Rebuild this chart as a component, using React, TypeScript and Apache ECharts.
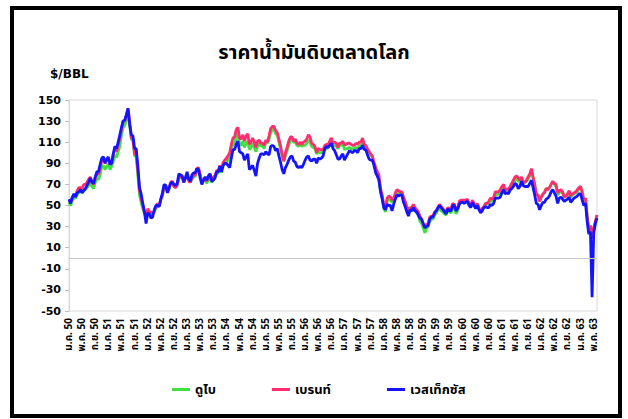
import React, { useEffect, useRef } from "react";
import * as echarts from "echarts";

const titleText = "ราคาน้ำมันดิบตลาดโลก";
const unitText = "$/BBL";
const seriesNames = ["ดูไบ", "เบรนท์", "เวสเท็กซัส"];
const seriesColors = ["#3fe03f", "#ff2d6d", "#1414ff"];

const xTickLabels = [
  "ม.ค. 50", "พ.ค. 50", "ก.ย. 50", "ม.ค. 51", "พ.ค. 51", "ก.ย. 51",
  "ม.ค. 52", "พ.ค. 52", "ก.ย. 52", "ม.ค. 53", "พ.ค. 53", "ก.ย. 53",
  "ม.ค. 54", "พ.ค. 54", "ก.ย. 54", "ม.ค. 55", "พ.ค. 55", "ก.ย. 55",
  "ม.ค. 56", "พ.ค. 56", "ก.ย. 56", "ม.ค. 57", "พ.ค. 57", "ก.ย. 57",
  "ม.ค. 58", "พ.ค. 58", "ก.ย. 58", "ม.ค. 59", "พ.ค. 59", "ก.ย. 59",
  "ม.ค. 60", "พ.ค. 60", "ก.ย. 60", "ม.ค. 61", "พ.ค. 61", "ก.ย. 61",
  "ม.ค. 62", "พ.ค. 62", "ก.ย. 62", "ม.ค. 63", "พ.ค. 63",
];

// half-month values, Jan 2007 (first half) .. Jun 2020 (first half)
const dubai = [
  53, 50, 55, 57, 57, 60, 63, 63, 63, 65, 65, 67, 69, 71, 68, 66, 72, 75, 75, 79, 87, 88, 84, 87,
  89, 84, 87, 92, 97, 96, 101, 106, 117, 124, 126, 131, 137, 126, 113, 112, 97, 96, 78, 60, 53, 47, 43, 38,
  45, 43, 43, 42, 44, 47, 50, 49, 56, 59, 69, 69, 63, 66, 71, 72, 68, 67, 70, 76, 77, 77, 73, 76,
  79, 75, 72, 75, 77, 78, 83, 85, 79, 73, 73, 75, 71, 74, 76, 72, 74, 76, 80, 81, 85, 81, 88, 90,
  91, 93, 97, 104, 108, 109, 116, 118, 108, 107, 111, 105, 109, 111, 103, 105, 109, 105, 101, 106, 109, 106, 107, 104,
  110, 109, 113, 119, 122, 123, 118, 117, 110, 104, 97, 92, 97, 102, 107, 112, 113, 110, 110, 107, 106, 108, 106, 107,
  107, 109, 112, 110, 106, 105, 104, 99, 101, 100, 100, 101, 103, 104, 105, 107, 110, 106, 107, 106, 104, 107, 107, 108,
  103, 104, 104, 105, 104, 104, 104, 105, 104, 106, 107, 110, 106, 105, 103, 101, 98, 96, 89, 85, 79, 75, 63, 58,
  47, 44, 54, 57, 55, 53, 55, 60, 63, 62, 61, 61, 57, 53, 49, 45, 47, 45, 47, 45, 43, 41, 35, 33,
  29, 24, 28, 30, 35, 37, 37, 41, 43, 46, 47, 45, 44, 42, 41, 45, 44, 43, 48, 48, 42, 45, 52, 53,
  54, 54, 54, 55, 52, 50, 53, 51, 49, 51, 47, 45, 46, 48, 51, 51, 52, 55, 54, 56, 61, 60, 61, 62,
  65, 67, 62, 63, 62, 64, 67, 70, 74, 75, 73, 73, 74, 71, 72, 73, 75, 78, 83, 77, 70, 61, 60, 54,
  58, 60, 63, 66, 66, 67, 70, 72, 70, 68, 60, 62, 64, 62, 58, 59, 60, 62, 58, 60, 61, 62, 63, 66,
  68, 63, 54, 55, 40, 26, 22, 19, 26, 33, 41,
];

const brent = [
  55, 53, 57, 60, 60, 64, 67, 67, 66, 70, 70, 72, 75, 77, 72, 70, 76, 79, 80, 85, 93, 94, 90, 93,
  95, 89, 92, 98, 104, 101, 108, 114, 122, 130, 130, 136, 142, 129, 114, 113, 99, 98, 83, 64, 57, 50, 44, 39,
  47, 44, 44, 42, 45, 49, 52, 50, 56, 60, 68, 69, 63, 67, 72, 73, 68, 67, 69, 77, 77, 77, 72, 76,
  80, 73, 72, 76, 79, 79, 85, 86, 79, 72, 74, 76, 73, 77, 80, 74, 77, 78, 83, 83, 88, 84, 91, 93,
  95, 97, 100, 108, 114, 115, 122, 124, 114, 113, 117, 111, 116, 118, 108, 110, 114, 110, 105, 111, 112, 109, 109, 107,
  112, 110, 116, 123, 125, 125, 121, 119, 113, 107, 98, 92, 100, 105, 111, 115, 115, 111, 113, 109, 108, 110, 108, 110,
  111, 113, 117, 115, 109, 108, 106, 100, 104, 103, 103, 103, 107, 108, 108, 111, 114, 109, 110, 109, 105, 109, 109, 111,
  107, 108, 109, 109, 108, 107, 107, 109, 108, 110, 110, 114, 108, 107, 104, 101, 99, 97, 91, 86, 82, 79, 66, 60,
  50, 48, 57, 59, 58, 55, 57, 62, 65, 64, 63, 63, 58, 54, 49, 45, 48, 48, 51, 48, 46, 44, 40, 37,
  33, 29, 32, 33, 39, 40, 40, 44, 45, 48, 51, 49, 47, 45, 44, 48, 47, 47, 52, 51, 46, 47, 54, 55,
  55, 55, 55, 56, 52, 51, 55, 52, 49, 52, 48, 45, 47, 49, 52, 52, 54, 57, 56, 58, 63, 63, 63, 65,
  68, 70, 64, 66, 65, 68, 71, 74, 77, 78, 76, 74, 77, 72, 72, 74, 77, 80, 85, 77, 70, 60, 60, 54,
  58, 61, 62, 66, 65, 67, 70, 73, 71, 70, 62, 64, 65, 63, 58, 59, 61, 64, 59, 61, 62, 63, 65, 67,
  68, 62, 55, 57, 40, 27, 31, 19, 29, 35, 41,
];

const wti = [
  56, 52, 58, 61, 58, 62, 63, 65, 62, 64, 66, 69, 72, 76, 72, 71, 77, 82, 82, 89, 95, 96, 90, 94,
  96, 89, 90, 99, 106, 104, 110, 117, 124, 130, 131, 136, 142, 127, 117, 116, 104, 104, 87, 67, 61, 52, 44, 33,
  43, 42, 38, 39, 46, 50, 50, 49, 56, 62, 70, 69, 62, 66, 71, 72, 70, 69, 71, 80, 79, 78, 72, 76,
  82, 75, 73, 79, 81, 81, 85, 84, 76, 70, 74, 77, 74, 78, 80, 73, 74, 76, 82, 82, 87, 82, 88, 90,
  90, 88, 86, 95, 103, 103, 108, 111, 101, 100, 99, 93, 96, 99, 84, 86, 88, 83, 78, 90, 95, 99, 99, 98,
  101, 99, 98, 106, 107, 106, 102, 104, 97, 91, 84, 80, 86, 89, 93, 96, 97, 92, 91, 87, 86, 87, 86, 89,
  93, 96, 97, 93, 92, 94, 94, 90, 95, 94, 95, 97, 104, 106, 105, 107, 109, 104, 102, 98, 94, 94, 97, 99,
  93, 96, 99, 102, 101, 100, 102, 102, 100, 104, 104, 107, 103, 103, 98, 94, 93, 93, 88, 81, 78, 74, 63, 56,
  48, 46, 51, 50, 50, 45, 51, 56, 60, 59, 60, 60, 53, 49, 44, 40, 46, 45, 48, 45, 44, 41, 38, 37,
  33, 29, 30, 31, 37, 39, 39, 43, 45, 48, 50, 48, 46, 44, 42, 47, 45, 45, 50, 50, 45, 47, 51, 53,
  53, 52, 53, 54, 50, 48, 53, 50, 47, 50, 46, 43, 45, 48, 49, 48, 48, 51, 50, 52, 57, 57, 57, 58,
  62, 65, 61, 62, 61, 65, 66, 68, 71, 70, 66, 68, 73, 69, 68, 68, 68, 71, 74, 67, 60, 52, 51, 46,
  50, 53, 53, 56, 57, 59, 63, 65, 62, 59, 52, 57, 58, 56, 54, 55, 56, 58, 53, 55, 57, 58, 59, 61,
  61, 55, 50, 52, 35, 23, 25, -37, 24, 33, 38,
];

const seriesData = [dubai, brent, wti];

// category keys: one per half month
const periods: string[] = [];
for (let y = 2007; y <= 2020; y++) {
  for (let m = 1; m <= 12; m++) {
    for (const h of ["a", "b"]) {
      if (periods.length < dubai.length) periods.push(`${y}-${m}${h}`);
    }
  }
}

const latin = "'DejaVu Sans', Verdana, sans-serif";
const thai = "'Noto Sans Thai', 'Noto Sans', 'DejaVu Sans', sans-serif";

export default function App() {
  const ref = useRef<HTMLDivElement>(null);
  useEffect(() => {
    const chart = echarts.init(ref.current as HTMLDivElement, null, { renderer: "svg" });
    chart.setOption({
      animation: false,
      backgroundColor: "#ffffff",
      title: {
        text: titleText,
        left: "center",
        top: 38,
        textStyle: { fontSize: 20, fontWeight: "bold", color: "#000", fontFamily: thai },
      },
      legend: {
        data: seriesNames,
        left: 167,
        top: 378,
        itemGap: 56,
        itemWidth: 18,
        itemHeight: 3,
        icon: "rect",
        textStyle: { fontSize: 13, fontWeight: "bold", color: "#000", fontFamily: thai },
      },
      grid: {
        left: 69,
        right: 31,
        top: 100,
        bottom: 108,
        show: true,
        borderColor: "#d9d9d9",
        borderWidth: 1,
        backgroundColor: "transparent",
      },
      xAxis: {
        type: "category",
        data: periods,
        boundaryGap: false,
        axisLine: { show: false },
        axisTick: { show: false },
        splitLine: { show: false },
        axisLabel: {
          interval: 7,
          rotate: 90,
          margin: 7,
          fontSize: 10,
          fontWeight: "bold",
          color: "#000",
          fontFamily: thai,
          formatter: (_v: string, i: number) => xTickLabels[i / 8] ?? "",
        },
      },
      yAxis: {
        type: "value",
        min: -50,
        max: 150,
        interval: 20,
        axisLine: { show: true, lineStyle: { color: "#d9d9d9" } },
        axisTick: { show: true, length: 4, lineStyle: { color: "#bfbfbf" } },
        splitLine: { show: false },
        axisLabel: { fontSize: 11, fontWeight: "bold", color: "#000", fontFamily: latin, margin: 8 },
      },
      series: seriesNames.map((name, k) => ({
        name,
        type: "line",
        data: seriesData[k],
        showSymbol: false,
        symbol: "none",
        color: seriesColors[k],
        lineStyle: { width: 2.8, color: seriesColors[k] },
        z: 2 + k,
        markLine:
          k === 0
            ? {
                silent: true,
                symbol: "none",
                label: { show: false },
                lineStyle: { color: "#c8c8c8", width: 1, type: "solid" },
                data: [{ yAxis: 0 }],
              }
            : undefined,
      })),
      graphic: [
        {
          type: "rect",
          shape: { x: 12, y: 8, width: 608, height: 408 },
          style: { fill: "none", stroke: "#000", lineWidth: 4 },
          silent: true,
        },
        {
          type: "text",
          x: 50,
          y: 74,
          style: { text: unitText, fontSize: 12, fontWeight: "bold", fill: "#000", fontFamily: latin, textVerticalAlign: "middle" },
        },
      ],
    });
    return () => chart.dispose();
  }, []);
  return <div ref={ref} style={{ position: "absolute", left: 0, top: 0, width: 628, height: 419 }} />;
}
